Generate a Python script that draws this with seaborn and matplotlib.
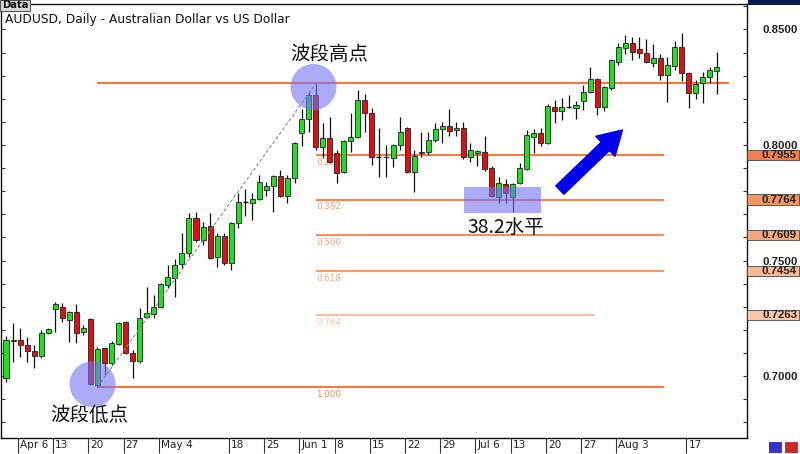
import numpy as np
import pandas as pd
import matplotlib
matplotlib.use("Agg")
import matplotlib.pyplot as plt
import matplotlib.transforms as mtrans
from matplotlib.patches import Ellipse, Rectangle
import seaborn as sns

# ---------------- data ----------------
opens = [0.6991, 0.7152, 0.7156, 0.7134, 0.7108, 0.7087, 0.7186, 0.7290, 0.7299, 0.7242,
         0.7277, 0.7190, 0.7247, 0.6961, 0.7121, 0.7056, 0.7139, 0.7234, 0.7100, 0.7065,
         0.7255, 0.7268, 0.7299, 0.7394, 0.7424, 0.7485, 0.7532, 0.7684, 0.7589, 0.7649,
         0.7515, 0.7606, 0.7489, 0.7662, 0.7753, 0.7749, 0.7766, 0.7805, 0.7822, 0.7866,
         0.7779, 0.7857, 0.8052, 0.8113, 0.8216, 0.7991, 0.8030, 0.7965, 0.7883, 0.8017,
         0.8035, 0.8195, 0.8139, 0.7948, 0.7950, 0.7944, 0.8000, 0.8074, 0.7883, 0.7965,
         0.7970, 0.8022, 0.8069, 0.8082, 0.8065, 0.8074, 0.7948, 0.7965, 0.7970, 0.7900,
         0.7775, 0.7831, 0.7775, 0.7835, 0.7896, 0.8035, 0.8052, 0.8009, 0.8165, 0.8147,
         0.8165, 0.8160, 0.8190, 0.8229, 0.8286, 0.8165, 0.8247, 0.8359, 0.8420, 0.8442,
         0.8416, 0.8398, 0.8355, 0.8377, 0.8303, 0.8342, 0.8424, 0.8312, 0.8225, 0.8268,
         0.8294, 0.8320]
highs = [0.7173, 0.7229, 0.7208, 0.7169, 0.7134, 0.7199, 0.7208, 0.7320, 0.7316, 0.7281,
         0.7312, 0.7221, 0.7251, 0.7126, 0.7126, 0.7152, 0.7234, 0.7238, 0.7113, 0.7294,
         0.7385, 0.7351, 0.7403, 0.7481, 0.7507, 0.7619, 0.7706, 0.7710, 0.7667, 0.7706,
         0.7619, 0.7619, 0.7667, 0.7792, 0.7810, 0.7792, 0.7870, 0.7840, 0.7870, 0.7892,
         0.7870, 0.8013, 0.8156, 0.8234, 0.8264, 0.8095, 0.8121, 0.7978, 0.8022, 0.8139,
         0.8238, 0.8221, 0.8160, 0.8074, 0.8000, 0.8004, 0.8121, 0.8078, 0.7978, 0.8056,
         0.8056, 0.8095, 0.8100, 0.8156, 0.8100, 0.8100, 0.8009, 0.7978, 0.8039, 0.7909,
         0.7861, 0.7853, 0.7835, 0.7922, 0.8065, 0.8069, 0.8074, 0.8177, 0.8195, 0.8203,
         0.8216, 0.8190, 0.8260, 0.8338, 0.8290, 0.8255, 0.8372, 0.8442, 0.8476, 0.8468,
         0.8468, 0.8459, 0.8437, 0.8394, 0.8381, 0.8450, 0.8485, 0.8316, 0.8281, 0.8316,
         0.8338, 0.8403]
lows = [0.6974, 0.7061, 0.7082, 0.7061, 0.7035, 0.7078, 0.7182, 0.7190, 0.7234, 0.7147,
        0.7143, 0.7177, 0.6961, 0.6952, 0.7004, 0.7048, 0.7134, 0.7095, 0.6991, 0.7056,
        0.7251, 0.7251, 0.7294, 0.7381, 0.7342, 0.7468, 0.7515, 0.7580, 0.7567, 0.7507,
        0.7472, 0.7481, 0.7459, 0.7641, 0.7693, 0.7675, 0.7762, 0.7779, 0.7710, 0.7775,
        0.7749, 0.7835, 0.7996, 0.8056, 0.7978, 0.7944, 0.7922, 0.7835, 0.7879, 0.7970,
        0.8030, 0.8056, 0.7913, 0.7861, 0.7861, 0.7905, 0.7978, 0.7879, 0.7797, 0.7948,
        0.7957, 0.8013, 0.8009, 0.8039, 0.8039, 0.7939, 0.7926, 0.7909, 0.7887, 0.7775,
        0.7749, 0.7749, 0.7710, 0.7831, 0.7892, 0.7965, 0.7996, 0.8004, 0.8095, 0.8108,
        0.8160, 0.8113, 0.8152, 0.8225, 0.8130, 0.8147, 0.8238, 0.8346, 0.8394, 0.8368,
        0.8377, 0.8355, 0.8338, 0.8281, 0.8186, 0.8325, 0.8277, 0.8160, 0.8199, 0.8182,
        0.8268, 0.8221]
closes = [0.7156, 0.7156, 0.7134, 0.7108, 0.7087, 0.7186, 0.7203, 0.7312, 0.7251, 0.7277,
          0.7186, 0.7208, 0.6965, 0.7117, 0.7056, 0.7143, 0.7229, 0.7100, 0.7065, 0.7251,
          0.7273, 0.7299, 0.7398, 0.7429, 0.7481, 0.7532, 0.7684, 0.7589, 0.7645, 0.7511,
          0.7606, 0.7489, 0.7662, 0.7753, 0.7753, 0.7766, 0.7840, 0.7822, 0.7866, 0.7779,
          0.7857, 0.8009, 0.8113, 0.8216, 0.7991, 0.8030, 0.7926, 0.7879, 0.8017, 0.8035,
          0.8195, 0.8139, 0.7948, 0.7948, 0.7948, 0.8000, 0.8056, 0.7883, 0.7952, 0.7970,
          0.8022, 0.8069, 0.8082, 0.8061, 0.8074, 0.7948, 0.7978, 0.7974, 0.7896, 0.7779,
          0.7835, 0.7792, 0.7831, 0.7900, 0.8043, 0.8052, 0.8009, 0.8169, 0.8147, 0.8165,
          0.8165, 0.8173, 0.8229, 0.8286, 0.8165, 0.8251, 0.8368, 0.8424, 0.8442, 0.8403,
          0.8398, 0.8359, 0.8377, 0.8303, 0.8346, 0.8424, 0.8312, 0.8225, 0.8264, 0.8294,
          0.8325, 0.8338]

tick_idx = [2, 7, 12, 17, 22, 32, 37, 42, 47, 52, 57, 62, 67, 72, 77, 82, 87, 97]
tick_labels = ['Apr 6', '13', '20', '27', 'May 4', '18', '25', 'Jun 1', '8', '15',
               '22', '29', 'Jul 6', '13', '20', '27', 'Aug 3', '17']

price_ticks = [0.70, 0.75, 0.80, 0.85]
price_tick_labels = ['0.7000', '0.7500', '0.8000', '0.8500']

fib_ratios = ['0.000', '0.236', '0.382', '0.500', '0.618', '0.764', '1.000']
fib_prices = [0.8266, 0.7955, 0.7764, 0.7609, 0.7454, 0.7263, 0.6952]
fib_price_labels = ['', '0.7955', '0.7764', '0.7609', '0.7454', '0.7263', '']
fib_start = [13, 44, 44, 44, 44, 44, 13]
fib_end = [102.8, 93.5, 93.5, 93.5, 93.5, 83.7, 93.5]

swing_low_idx = 13
swing_high_idx = 44

notes = ['波段高点', '波段低点', '38.2水平']
note_x = [46.0, 11.8, 71.0]
note_y = [0.8390, 0.6830, 0.7645]

title = 'AUDUSD, Daily - Australian Dollar vs US Dollar'

# ---------------- style ----------------
sns.set_theme(style='white')
plt.rcParams['font.family'] = ['DejaVu Sans']
cjk = ['Noto Sans CJK SC', 'DejaVu Sans']
axfont = ['Liberation Sans', 'DejaVu Sans']

W, H = 800, 454
fig = plt.figure(figsize=(W / 100, H / 100), dpi=100)
fig.patch.set_facecolor('white')
ax = fig.add_axes([1 / W, 16 / H, 746 / W, 434 / H])
ax.set_facecolor('white')

n = len(opens)
x = np.arange(n)
df = pd.DataFrame({'x': x, 'open': opens, 'high': highs, 'low': lows, 'close': closes})

ax.set_xlim(-0.71, 105.3)
ax.set_ylim(0.6732, 0.8610)

# fib lines
line_cols = ['#F47838', '#F47C40', '#F4864C', '#F58E58', '#F59A68', '#F8BE9E', '#F47838']
text_cols = ['#F5A07A', '#F5A07A', '#F5A07A', '#F5A07A', '#F5A880', '#F8C4A8', '#F08A50']
for i, (r, p) in enumerate(zip(fib_ratios, fib_prices)):
    ax.hlines(p, fib_start[i], fib_end[i], color=line_cols[i], lw=1.5, zorder=1)
    if i > 0:
        ax.annotate(r, (44, p), xytext=(0.5, -2), textcoords='offset points',
                    ha='left', va='top', fontsize=6.3, color=text_cols[i], zorder=1)

# candles
up = df['close'] > df['open']
down = df['close'] < df['open']
ax.vlines(df['x'], df['low'], df['high'], color='#111111', lw=0.9, zorder=3)
bw = 0.72
for sel, col in [(up, '#1EE01E'), (down, '#E01010')]:
    d = df[sel]
    ax.bar(d['x'], (d['close'] - d['open']).abs(), bottom=np.minimum(d['open'], d['close']),
           width=bw, color=col, edgecolor='#202020', linewidth=0.6, zorder=4)
flat = df[~(up | down)]
ax.hlines(flat['open'], flat['x'] - bw / 2, flat['x'] + bw / 2, color='#111111', lw=1.0, zorder=4)

# swing diagonal
sns.lineplot(x=[swing_low_idx, swing_high_idx], y=[lows[swing_low_idx], highs[swing_high_idx]],
             ax=ax, color='#8A8A8A', lw=0.8, linestyle=(0, (3, 2)), zorder=5)

# highlight shapes (circular in pixels)
px_x = 7.04      # pixels per candle
px_y = 2310.0    # pixels per price unit
circ_col = (0.45, 0.45, 0.95)
for cx, cy in [(43.7, 0.8251), (12.3, 0.6965)]:
    ax.add_patch(Ellipse((cx, cy), 46 / px_x, 46 / px_y, facecolor=circ_col, alpha=0.6,
                         edgecolor='none', zorder=6))
ax.add_patch(Rectangle((65.1, 0.7706), 10.9, 0.0112, facecolor=circ_col, alpha=0.6,
                       edgecolor='none', zorder=6))

# blue arrow
ax.annotate('', xy=(87.6, 0.8065), xytext=(78.7, 0.7805),
            arrowprops=dict(arrowstyle='simple,head_width=1.0,head_length=0.85,tail_width=0.42',
                            color='#0000F0', shrinkA=0, shrinkB=0, mutation_scale=20), zorder=7)

# notes
for t, nx, ny in zip(notes, note_x, note_y):
    ax.text(nx, ny, t, ha='center', va='center', fontsize=14, family=cjk, color='#111111', zorder=8)

# title
ax.text(4 / 746, (438 - 20) / 434, title, transform=ax.transAxes, ha='left', va='center',
        fontsize=8.8, color='#111111')

# axes styling
for s in ax.spines.values():
    s.set_color('#111111')
    s.set_linewidth(1.0)
    s.set_visible(True)
ax.set_yticks(price_ticks)
ax.set_yticklabels(price_tick_labels)
ax.set_yticks(np.arange(0.68, 0.861, 0.01), minor=True)
ax.tick_params(axis='y', which='both', direction='in', left=True, right=True,
               labelleft=False, labelright=True, length=3.2, width=0.8, color='#333333',
               labelsize=8.2, pad=11)
for lbl in ax.get_yticklabels():
    lbl.set_fontweight('bold')
    lbl.set_family(axfont)
    lbl.set_color('#222222')

ax.set_xticks([i - 0.3 for i in tick_idx])
ax.set_xticklabels(tick_labels)
ax.tick_params(axis='x', which='major', direction='out', bottom=True, length=10.5, width=0.8,
               color='#333333', labelsize=7.6, pad=-9.0, labelcolor='#222222')
off = mtrans.ScaledTranslation(1.5 / 72, 0, fig.dpi_scale_trans)
for lbl in ax.get_xticklabels():
    lbl.set_horizontalalignment('left')
    lbl.set_transform(lbl.get_transform() + off)
ax.set_xlabel('')
ax.set_ylabel('')
ax.grid(False)

# fib price boxes on the right axis
box_cols = ['#F2804E', '#F49664', '#F5A67A', '#F7B893', '#F9C7A7']
bt = mtrans.blended_transform_factory(ax.transAxes, ax.transData)
k = 0
for lab, p in zip(fib_price_labels, fib_prices):
    if not lab:
        continue
    ax.add_patch(Rectangle((1.0, p - 0.0022), 52 / 746, 0.0044, transform=bt, clip_on=False,
                           facecolor=box_cols[k], edgecolor='#444444', linewidth=0.6, zorder=9))
    ax.text(1.0 + 50 / 746, p, lab, transform=bt, ha='right', va='center', fontsize=8.2,
            fontweight='bold', family=axfont, color='#222222', clip_on=False, zorder=10)
    k += 1

# chrome bits: Data tab, top-right price box, bottom-right buttons
fig.patches.append(Rectangle((0, 1 - 11 / H), 30 / W, 11 / H, transform=fig.transFigure,
                             facecolor='#DADADA', edgecolor='#555555', linewidth=0.8, zorder=20))
fig.text(2 / W, 1 - 5.5 / H, 'Data', ha='left', va='center', fontsize=7.2, fontweight='bold',
         color='#111111', zorder=21)
fig.patches.append(Rectangle((748 / W, 1 - 5 / H), 52 / W, 5 / H, transform=fig.transFigure,
                             facecolor='#0B1650', edgecolor='none', zorder=20))
fig.patches.append(Rectangle((768 / W, 1 / H), 14 / W, 12 / H, transform=fig.transFigure,
                             facecolor='#3A32C8', edgecolor='#FFFFFF', linewidth=0.8, zorder=20))
fig.patches.append(Rectangle((784 / W, 1 / H), 14 / W, 12 / H, transform=fig.transFigure,
                             facecolor='#C82828', edgecolor='#FFFFFF', linewidth=0.8, zorder=20))

fig.savefig('out.png', dpi=100, facecolor='white')
